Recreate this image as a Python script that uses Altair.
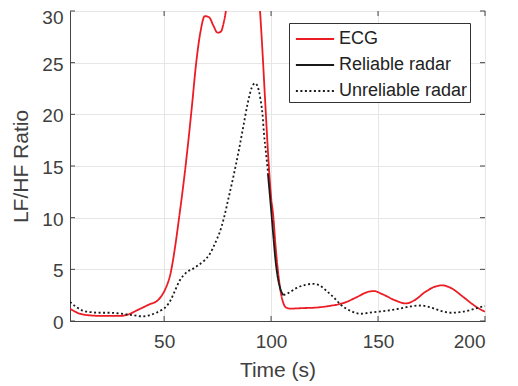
import altair as alt
import pandas as pd

# ECG series
ecg_t = [6, 10, 15, 20, 25, 30, 34, 37, 40, 43, 47, 49, 51, 53, 55, 57, 59, 61, 63, 65,
         67, 69, 71, 73, 75, 76.5, 78, 80, 84, 88, 92, 94.5, 96, 97.2, 98.8, 100, 101.1,
         102, 103.4, 104.5, 105.8, 107, 109, 115, 121, 127, 134, 140, 145, 148, 152, 158,
         163, 167, 172, 177, 180, 184, 190, 195, 199, 200]
ecg_v = [1.2, 0.75, 0.55, 0.5, 0.5, 0.5, 0.7, 1.0, 1.3, 1.6, 2.0, 2.5, 3.3, 4.6, 7.0, 10.0,
         13.2, 16.8, 20.8, 25.0, 28.0, 29.5, 29.4, 28.6, 27.9, 28.0, 29.0, 31.5, 36, 38, 36,
         31, 26, 21.4, 15.5, 12, 10, 7.5, 4.5, 2.8, 1.7, 1.3, 1.2, 1.25, 1.3, 1.45, 1.75,
         2.3, 2.8, 2.9, 2.6, 2.0, 1.7, 2.0, 2.8, 3.35, 3.45, 3.2, 2.3, 1.5, 1.0, 0.9]

# Reliable radar segment
rel_t = [98.5, 99.5, 101.1, 102, 103.4, 104.5, 105.8]
rel_v = [14.3, 12, 8.1, 6, 3.9, 3.0, 2.5]

# Unreliable radar (two pieces)
unr1_t = [6, 9, 12, 16, 20, 24.5, 28, 32, 36, 40, 43, 46.4, 49, 51, 53, 55, 57, 59, 61, 63,
          66, 69, 71.4, 74, 76, 78, 80, 82.3, 85, 87, 89, 91, 92.5, 93.5, 95, 96, 96.7,
          97.5, 98.5]
unr1_v = [1.85, 1.35, 1.0, 0.85, 0.8, 0.8, 0.75, 0.65, 0.55, 0.45, 0.55, 0.8, 1.1, 1.4, 2.0,
          2.9, 3.8, 4.4, 4.8, 5.0, 5.4, 5.9, 6.5, 7.6, 8.6, 10.0, 11.8, 13.9, 16.6, 18.8, 21,
          22.6, 23.0, 22.8, 21.5, 20, 18.1, 16.5, 14.5]
unr2_t = [105.8, 108, 112, 116, 119.8, 123, 126, 129.2, 133, 137, 141.7, 146, 150, 155.8,
          160, 165, 169.8, 174, 179, 183.9, 188, 193, 198.8, 200]
unr2_v = [2.5, 2.7, 3.2, 3.5, 3.6, 3.4, 2.9, 2.3, 1.5, 1.0, 0.7, 0.8, 0.9, 1.05, 1.2, 1.4,
          1.5, 1.35, 1.0, 0.8, 0.85, 1.05, 1.4, 1.45]

series = ["ECG", "Reliable radar", "Unreliable radar"]
x_ticks = [50, 100, 150, 200]
y_ticks = [0, 5, 10, 15, 20, 25, 30]

rows = []
for t, v in zip(ecg_t, ecg_v):
    rows.append({"t": t, "v": v, "series": "ECG", "seg": "ecg"})
for t, v in zip(rel_t, rel_v):
    rows.append({"t": t, "v": v, "series": "Reliable radar", "seg": "rel"})
for t, v in zip(unr1_t, unr1_v):
    rows.append({"t": t, "v": v, "series": "Unreliable radar", "seg": "u1"})
for t, v in zip(unr2_t, unr2_v):
    rows.append({"t": t, "v": v, "series": "Unreliable radar", "seg": "u2"})
df = pd.DataFrame(rows)

W, H = 415, 310
FONT = "Liberation Sans"
TXT = "#404040"
AX = "#444444"

xs = alt.Scale(domain=[6, 200], nice=False, zero=False)
ys = alt.Scale(domain=[0, 30], nice=False)

lines = alt.Chart(df).mark_line(clip=True, interpolate="monotone", strokeWidth=1.8).encode(
    x=alt.X("t:Q", scale=xs,
            axis=alt.Axis(title="Time (s)", values=x_ticks, grid=True,
                          ticks=False, labelPadding=11, titlePadding=8)),
    y=alt.Y("v:Q", scale=ys,
            axis=alt.Axis(title="LF/HF Ratio", values=y_ticks, grid=True,
                          ticks=False, labelPadding=7, titlePadding=10,
                          labelOffset={"expr": "datum.value == 30 ? 6.5 : 1.5"})),
    color=alt.Color("series:N", scale=alt.Scale(domain=series, range=["#ec1c24", "#1a1a1a", "#1a1a1a"]),
                    legend=alt.Legend(title=None)),
    strokeDash=alt.StrokeDash("series:N", scale=alt.Scale(domain=series, range=[[1, 0], [1, 0], [2, 2.5]]),
                              legend=alt.Legend(title=None)),
    detail="seg:N",
)

ydf = pd.DataFrame({"v": y_ticks})
xdf = pd.DataFrame({"t": x_ticks})
ytl = alt.Chart(ydf).mark_rule(color=AX, strokeWidth=1).encode(
    y=alt.Y("v:Q", scale=ys), x=alt.value(0), x2=alt.value(5))
ytr = alt.Chart(ydf).mark_rule(color=AX, strokeWidth=1).encode(
    y=alt.Y("v:Q", scale=ys), x=alt.value(W - 5), x2=alt.value(W))
xtb = alt.Chart(xdf).mark_rule(color=AX, strokeWidth=1).encode(
    x=alt.X("t:Q", scale=xs), y=alt.value(H), y2=alt.value(H - 5))
xtt = alt.Chart(xdf).mark_rule(color=AX, strokeWidth=1).encode(
    x=alt.X("t:Q", scale=xs), y=alt.value(0), y2=alt.value(5))

chart = alt.layer(lines, ytl, ytr, xtb, xtt).properties(
    width=W, height=H,
    padding={"left": 62, "top": 3, "right": 20, "bottom": 60},
    autosize=alt.AutoSizeParams(type="none"),
).configure_view(
    stroke=AX, strokeWidth=1
).configure_axis(
    labelFont=FONT, titleFont=FONT, labelFontSize=19, titleFontSize=21,
    labelColor=TXT, titleColor=TXT, titleFontWeight="normal",
    gridColor="#e6e6e6", gridWidth=1, domainColor=AX, domainWidth=1,
).configure_legend(
    orient="none", legendX=219, legendY=12,
    strokeColor="#333333", fillColor="white", padding=2,
    symbolType="M-1.5,0L1.5,0", symbolSize=650, symbolStrokeWidth=1.8,
    symbolFillColor="transparent", symbolOffset=10, labelOffset=10,
    labelFont=FONT, labelFontSize=18, labelColor="#222222", rowPadding=3,
    cornerRadius=0,
)

chart.save("out.html", embed_options={"renderer": "svg", "actions": False})
